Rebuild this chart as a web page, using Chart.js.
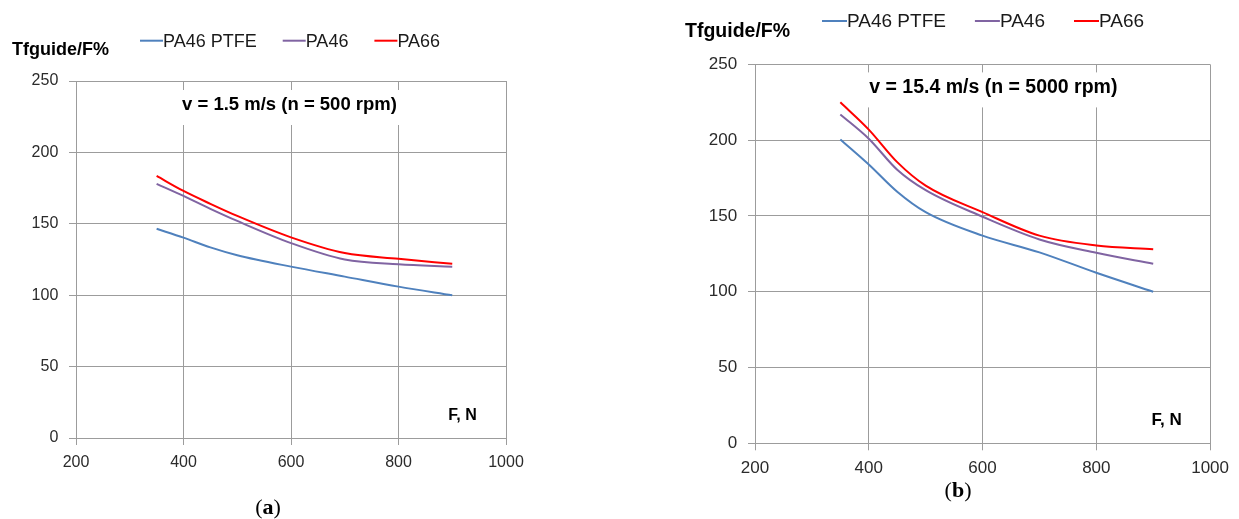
<!DOCTYPE html>
<html>
<head>
<meta charset="utf-8">
<script src="https://cdn.jsdelivr.net/npm/chart.js@4/dist/chart.umd.min.js"></script>
<style>
  html, body { margin: 0; padding: 0; background: #fff; }
  body { width: 1239px; height: 519px; position: relative; overflow: hidden; }
  .panel { position: absolute; top: 0; }
  .panel canvas { display: block; }
  .cap {
    position: absolute;
    font-family: "Liberation Serif", "Times New Roman", serif;
    font-size: 22px;
    line-height: 24px;
    color: #000;
    transform: translateX(-50%);
    white-space: nowrap;
  }
</style>
</head>
<body>
<div class="panel" style="left:0px"><canvas id="chartA" width="540" height="519"></canvas></div>
<div class="panel" style="left:620px"><canvas id="chartB" width="619" height="519"></canvas></div>
<div class="cap" style="left:268px;top:495px">(<b>a</b>)</div>
<div class="cap" style="left:958px;top:478px">(<b>b</b>)</div>

<script>
// Load force on the guide, N
const forceN = [350, 400, 450, 500, 600, 700, 800, 900];
const xTicks = [200, 400, 600, 800, 1000];
const yTicks = [0, 50, 100, 150, 200, 250];

const seriesNames = ['PA46 PTFE', 'PA46', 'PA66'];
const seriesColors = ['#4f81bd', '#8064a2', '#ff0000'];

// v = 1.5 m/s (n = 500 rpm)
const lowPTFE = [146.5, 140.3, 133.5, 128, 120, 113, 106, 100];
const lowPA46 = [178, 169.5, 160.5, 152, 136.5, 125, 121.7, 120];
const lowPA66 = [183.5, 173, 164, 155.5, 140.5, 129.5, 125.5, 122];

// v = 15.4 m/s (n = 5000 rpm)
const highPTFE = [200.5, 184, 166, 152.5, 137, 126, 112.5, 100];
const highPA46 = [217, 201, 180.5, 167, 149.5, 134.5, 125.7, 118.5];
const highPA66 = [225, 207, 185.5, 170, 152.5, 137, 130.5, 128];

const panelTitles = ['v = 1.5 m/s (n = 500 rpm)', 'v = 15.4 m/s (n = 5000 rpm)'];
const yAxisTitle = 'Tfguide/F%';
const xAxisTitle = 'F, N';

const SANS = '"Liberation Sans", Arial, sans-serif';
const GRID = '#9c9c9c';
const TICK_TEXT = '#2b2b2b';

// Legend, axis captions and the boxed speed title drawn on top of the plot
const panelDecor = {
  id: 'panelDecor',
  afterDraw(chart, args, o) {
    const ctx = chart.ctx;
    const a = chart.chartArea;
    ctx.save();
    ctx.textBaseline = 'middle';

    // y-axis caption above the axis
    ctx.fillStyle = '#000';
    ctx.textAlign = 'left';
    ctx.font = `bold ${o.axisTitleSize}px ${SANS}`;
    ctx.fillText(o.yTitle, o.yTitleX, a.top - o.yTitleRise);

    // legend row
    ctx.font = `${o.legendSize}px ${SANS}`;
    let x = o.legendX;
    const ly = a.top - o.legendRise;
    chart.data.datasets.forEach(ds => {
      ctx.strokeStyle = ds.borderColor;
      ctx.lineWidth = 2;
      ctx.beginPath();
      ctx.moveTo(x, ly);
      ctx.lineTo(x + o.swatch, ly);
      ctx.stroke();
      x += o.swatch;
      ctx.fillStyle = '#1a1a1a';
      ctx.fillText(ds.label, x, ly + 1);
      x += ctx.measureText(ds.label).width + o.legendGap;
    });

    // x-axis caption inside the plot, lower right
    ctx.fillStyle = '#000';
    ctx.textAlign = 'center';
    ctx.font = `bold ${o.xTitleSize}px ${SANS}`;
    ctx.fillText(o.xTitle, a.right - o.xTitleInset, a.bottom - o.xTitleRise);

    // speed title on a white box
    ctx.font = `bold ${o.titleSize}px ${SANS}`;
    const tw = ctx.measureText(o.title).width;
    const cx = a.left + a.width * o.titleAt;
    const cy = a.top + o.titleDrop;
    ctx.fillStyle = '#fff';
    ctx.fillRect(cx - tw / 2 - 4, cy - 15, tw + 8, 35);
    ctx.fillStyle = '#000';
    ctx.fillText(o.title, cx, cy);
    ctx.restore();
  }
};

function makePanel(canvasId, series, p) {
  const datasets = series.map((vals, i) => ({
    label: seriesNames[i],
    data: forceN.map((f, k) => ({ x: f, y: vals[k] })),
    borderColor: seriesColors[i],
    backgroundColor: seriesColors[i],
    borderWidth: 2,
    pointRadius: 0,
    fill: false,
    cubicInterpolationMode: 'monotone'
  }));

  const tickFont = { family: SANS, size: p.tickSize, lineHeight: 1 };
  const plain = v => String(v);

  return new Chart(document.getElementById(canvasId), {
    type: 'line',
    data: { datasets },
    plugins: [panelDecor],
    options: {
      responsive: false,
      animation: false,
      devicePixelRatio: 1,
      layout: { autoPadding: false, padding: p.padding },
      plugins: {
        legend: { display: false },
        title: { display: false },
        tooltip: { enabled: false },
        panelDecor: p.decor
      },
      scales: {
        x: {
          type: 'linear',
          min: xTicks[0],
          max: xTicks[xTicks.length - 1],
          afterBuildTicks: s => { s.ticks = xTicks.map(v => ({ value: v })); },
          afterFit: s => { s.height = p.xAxisH; },
          grid: { color: GRID, lineWidth: 1, drawTicks: true, tickLength: 7 },
          border: { color: GRID, width: 1 },
          ticks: { font: tickFont, color: TICK_TEXT, padding: p.xTickPad, maxRotation: 0, autoSkip: false, callback: plain }
        },
        y: {
          type: 'linear',
          min: yTicks[0],
          max: yTicks[yTicks.length - 1],
          afterBuildTicks: s => { s.ticks = yTicks.map(v => ({ value: v })); },
          afterFit: s => { s.width = p.yAxisW; },
          grid: { color: GRID, lineWidth: 1, drawTicks: true, tickLength: 7 },
          border: { color: GRID, width: 1 },
          ticks: { font: tickFont, color: TICK_TEXT, padding: p.yTickPad, autoSkip: false, callback: plain }
        }
      }
    }
  });
}

makePanel('chartA', [lowPTFE, lowPA46, lowPA66], {
  padding: { left: 0, top: 81, right: 34, bottom: 0 },
  yAxisW: 76,
  xAxisH: 81,
  tickSize: 16,
  xTickPad: 9.5,
  yTickPad: 10.7,
  decor: {
    yTitle: yAxisTitle, yTitleX: 12, yTitleRise: 31, axisTitleSize: 18,
    legendX: 140, legendRise: 40.3, swatch: 23, legendGap: 26, legendSize: 18,
    xTitle: xAxisTitle, xTitleSize: 16, xTitleInset: 43.5, xTitleRise: 22,
    title: panelTitles[0], titleSize: 18.5, titleAt: 0.4965, titleDrop: 24
  }
});

makePanel('chartB', [highPTFE, highPA46, highPA66], {
  padding: { left: 0, top: 64.4, right: 26, bottom: 0 },
  yAxisW: 135,
  xAxisH: 75.7,
  tickSize: 17,
  xTickPad: 10,
  yTickPad: 10.8,
  decor: {
    yTitle: yAxisTitle, yTitleX: 65, yTitleRise: 32.7, axisTitleSize: 19.5,
    legendX: 202, legendRise: 43.4, swatch: 25, legendGap: 29, legendSize: 19,
    xTitle: xAxisTitle, xTitleSize: 17, xTitleInset: 43.5, xTitleRise: 23.3,
    title: panelTitles[1], titleSize: 19.5, titleAt: 0.5237, titleDrop: 23
  }
});
</script>
</body>
</html>
